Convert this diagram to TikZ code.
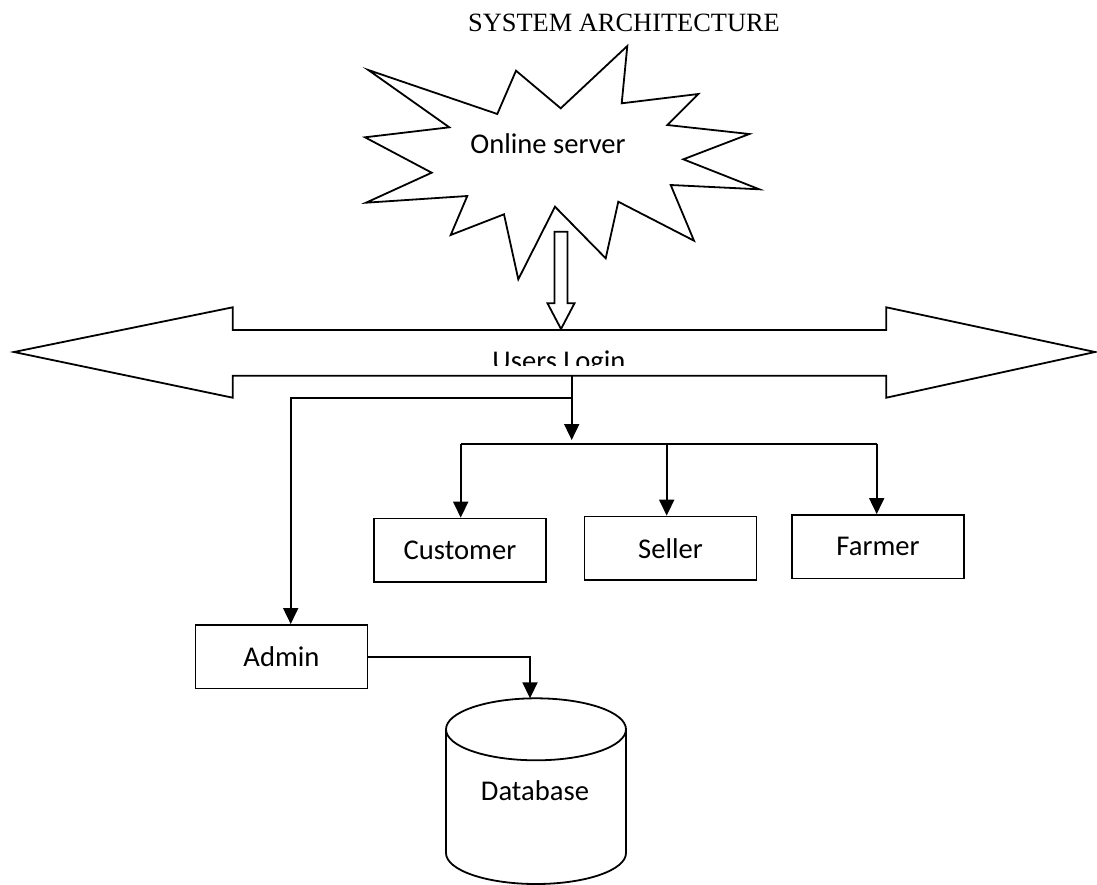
\documentclass[tikz,border=0pt]{standalone}
\usepackage{fontspec}
\setmainfont{Carlito}
\newfontfamily\titlefont{Liberation Serif}
\usetikzlibrary{arrows.meta}
\begin{document}
\begin{tikzpicture}[x=0.5pt,y=-0.5pt, line width=0.9pt, line join=miter,
  arr/.style={-{Triangle[length=8pt,width=7.5pt]}},
  lbl/.style={font=\fontsize{14.3}{17}\selectfont, inner sep=0pt},
  box/.style={draw, rectangle, minimum width=86pt, minimum height=31.75pt, inner sep=0pt, font=\fontsize{14.3}{17}\selectfont},
  outl/.style={draw, fill=white}]
\useasboundingbox (0,0) rectangle (1097,884);

% title
\node[font=\titlefont\fontsize{13.2}{15}\selectfont, anchor=base, inner sep=0pt] (title) at (624,31.7) {SYSTEM ARCHITECTURE};

% star (online server)
\path[outl] (368.3,70) -- (497.3,114) -- (516,70.7) -- (560.7,108.3) -- (627.3,46) -- (621.7,103.3)
  -- (698.3,94) -- (667.3,125) -- (749.3,134) -- (683.3,159.3) -- (759.3,189.3) -- (670.7,185)
  -- (694,240.7) -- (618.3,201.7) -- (605.7,258.3) -- (555,206.7) -- (518.3,279.3) -- (504,214.3)
  -- (450.7,235) -- (467.3,196) -- (366,202.7) -- (431.7,172.7) -- (365,137.3) -- (449.3,127.3) -- cycle;
\node[lbl, anchor=base] (server) at (548,153.3) {Online server};

% hollow arrow from server to login
\path[outl] (554.5,231.7) -- (567.5,231.7) -- (567.5,303.3) -- (574.5,303.3) -- (561,329)
  -- (547.5,303.3) -- (554.5,303.3) -- cycle;

% big double arrow (users login)
\path[outl] (14,352) -- (232.7,307.3) -- (232.7,330) -- (886.3,330) -- (886.3,307.3) -- (1095,352)
  -- (886.3,397.7) -- (886.3,375.7) -- (232.7,375.7) -- (232.7,397.7) -- cycle;
\begin{scope}
  \clip (233,331) rectangle (886,365);
  \node[lbl, anchor=base] (login) at (559,370) {Users Login};
\end{scope}

% boxes
\node[box] (cust) at (460,550.3) {Customer};
\node[box] (seller) at (670.5,548.3) {Seller};
\node[box] (farmer) at (878,546.7) {Farmer};
\node[box] (admin) at (281.5,656.7) {Admin};

% connectors
\coordinate (lo) at (571.7,375.7);
\coordinate (j1) at (571.7,397.7);
\coordinate (bt) at (571.7,440);
\coordinate (b1) at (460.7,444);
\coordinate (b2) at (666.7,444);
\coordinate (b3) at (876.7,444);
\coordinate (aj) at (290.7,397.7);
\coordinate (dbtop) at (530,698.3);

\draw[arr] (lo) -- (bt);
\draw (b1) -- (b3);
\draw[arr] (b1) -- (b1 |- cust.north);
\draw[arr] (b2) -- (b2 |- seller.north);
\draw[arr] (b3) -- (b3 |- farmer.north);
\draw[arr] (j1) -- (aj) -- (aj |- admin.north);
\draw[arr] (admin.east) -| (dbtop);

% database
\draw (446,729.3) -- (446,853) arc[start angle=180, end angle=0, x radius=90, y radius=31] -- (626,729.3);
\draw (536,729.3) ellipse [x radius=90, y radius=31];
\node[lbl] (db) at (535,790.5) {Database};
\end{tikzpicture}
\end{document}
